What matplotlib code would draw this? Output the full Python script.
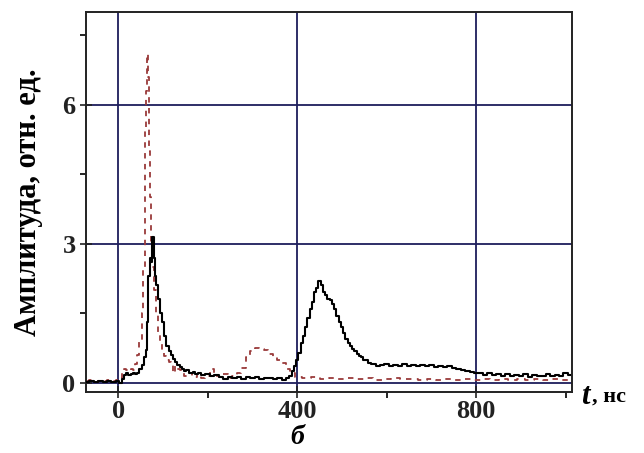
import matplotlib
matplotlib.use("Agg")
import matplotlib.pyplot as plt
from matplotlib.ticker import MultipleLocator

# Black solid trace (t, ns ; amplitude)
black_t = [-70, -60, -50, -40, -30, -20, -10, 0, 5, 10, 15, 20, 25, 30, 35, 40, 45, 50, 55,
           60, 63, 66, 69, 72, 75, 78, 81, 84, 87, 90, 95, 100, 105, 110, 115, 120, 125,
           130, 135, 140, 145, 150, 155, 160, 165, 170, 175, 180, 190, 200, 210, 220, 230,
           240, 250, 260, 270, 280, 290, 300, 310, 320, 330, 340, 350, 360, 370, 380, 385,
           390, 395, 400, 405, 410, 415, 420, 425, 430, 435, 440, 445, 450, 455, 460, 465,
           470, 475, 480, 485, 490, 495, 500, 505, 510, 515, 520, 525, 530, 535, 540, 545,
           550, 555, 560, 570, 580, 590, 600, 610, 620, 630, 640, 650, 660, 670, 680, 690,
           700, 710, 720, 730, 740, 750, 760, 770, 780, 790, 800, 810, 820, 830, 840, 850,
           860, 870, 880, 890, 900, 910, 920, 930, 940, 950, 960, 970, 980, 990, 1000, 1010]
black_y = [0.02, 0.03, 0.01, 0.03, 0.02, 0.03, 0.02, 0.03, 0.0, 0.08, 0.17, 0.2, 0.17, 0.19,
           0.2, 0.18, 0.22, 0.3, 0.38, 0.55, 0.7, 1.3, 2.3, 2.7, 2.6, 3.15, 2.7, 2.3, 2.1,
           1.8, 1.5, 1.3, 1.0, 0.8, 0.68, 0.6, 0.52, 0.45, 0.38, 0.33, 0.3, 0.25, 0.28, 0.22,
           0.2, 0.24, 0.18, 0.2, 0.17, 0.19, 0.15, 0.17, 0.12, 0.08, 0.13, 0.1, 0.12, 0.09,
           0.13, 0.1, 0.12, 0.08, 0.11, 0.1, 0.07, 0.1, 0.05, 0.1, 0.15, 0.25, 0.35, 0.5,
           0.65, 0.85, 1.0, 1.2, 1.4, 1.6, 1.75, 1.95, 2.05, 2.2, 2.1, 1.95, 1.9, 1.8, 1.78,
           1.7, 1.58, 1.45, 1.32, 1.2, 1.08, 0.95, 0.85, 0.8, 0.72, 0.68, 0.63, 0.58, 0.55,
           0.5, 0.48, 0.42, 0.4, 0.36, 0.38, 0.4, 0.35, 0.39, 0.37, 0.4, 0.36, 0.38, 0.35,
           0.39, 0.36, 0.38, 0.34, 0.37, 0.33, 0.36, 0.32, 0.3, 0.28, 0.25, 0.24, 0.22, 0.2,
           0.17, 0.2, 0.16, 0.18, 0.15, 0.19, 0.14, 0.17, 0.15, 0.18, 0.13, 0.17, 0.15, 0.14,
           0.18, 0.15, 0.17, 0.14, 0.2, 0.16]

# Red dashed trace
red_t = [-70, -60, -50, -40, -30, -20, -10, 0, 5, 10, 15, 20, 25, 30, 35, 40, 45, 50, 55,
         58, 60, 62, 64, 66, 68, 70, 72, 75, 78, 82, 86, 90, 95, 100, 105, 110, 115, 120,
         125, 130, 135, 140, 145, 150, 160, 170, 180, 190, 200, 210, 220, 230, 240, 250,
         260, 270, 280, 290, 300, 310, 320, 330, 340, 350, 360, 370, 380, 390, 400, 420,
         440, 460, 480, 500, 520, 540, 560, 580, 600, 620, 640, 660, 680, 700, 720, 740,
         760, 780, 800, 820, 840, 860, 880, 900, 920, 940, 960, 980, 1000, 1010]
red_y = [0.03, 0.05, 0.02, 0.04, 0.03, 0.05, 0.04, 0.05, 0.1, 0.2, 0.3, 0.28, 0.25, 0.3,
         0.28, 0.4, 0.6, 0.9, 1.5, 2.5, 4.0, 5.5, 6.3, 7.1, 6.6, 5.0, 4.0, 3.0, 2.5, 2.0,
         1.5, 1.1, 0.85, 0.7, 0.58, 0.5, 0.45, 0.4, 0.2, 0.35, 0.3, 0.28, 0.25, 0.15, 0.2,
         0.12, 0.18, 0.1, 0.15, 0.3, 0.15, 0.12, 0.18, 0.1, 0.15, 0.2, 0.32, 0.55, 0.68,
         0.75, 0.72, 0.7, 0.62, 0.55, 0.5, 0.42, 0.3, 0.22, 0.12, 0.1, 0.12, 0.08, 0.1,
         0.07, 0.11, 0.08, 0.1, 0.06, 0.09, 0.1, 0.07, 0.09, 0.06, 0.08, 0.05, 0.08, 0.06,
         0.09, 0.05, 0.08, 0.06, 0.09, 0.05, 0.07, 0.06, 0.08, 0.05, 0.07, 0.06, 0.05]

x_major = [0, 400, 800]
y_major = [0, 3, 6]

plt.rcParams["font.family"] = ["Liberation Serif", "DejaVu Serif"]
plt.rcParams["font.weight"] = "bold"

fig = plt.figure(figsize=(6.44, 4.53), dpi=100)
ax = fig.add_axes([0.1335, 0.1347, 0.7547, 0.839])

grid_col = "#1e1e5c"
for xv in x_major:
    ax.axvline(xv, color=grid_col, lw=1.3, zorder=1)
for yv in y_major:
    ax.axhline(yv, color=grid_col, lw=1.3, zorder=1)

ax.plot(red_t, red_y, color="#9a3a3a", lw=1.3, dashes=(3, 3),
        drawstyle="steps-mid", zorder=2)
ax.plot(black_t, black_y, color="black", lw=1.5, drawstyle="steps-mid", zorder=3)

ax.set_xlim(-72, 1014)
ax.set_ylim(-0.2, 8.0)
ax.set_xticks(x_major)
ax.set_yticks(y_major)
ax.xaxis.set_minor_locator(MultipleLocator(200))
ax.yaxis.set_minor_locator(MultipleLocator(1.5))
ax.tick_params(which="major", direction="inout", length=9, width=1.2, labelsize=19,
               colors="#222222")
ax.tick_params(which="minor", direction="out", length=4, width=1.2)
ax.tick_params(axis="x", pad=1)
ax.tick_params(axis="y", pad=3)
for lab in ax.get_xticklabels() + ax.get_yticklabels():
    lab.set_fontweight("bold")
for sp in ax.spines.values():
    sp.set_linewidth(1.4)
    sp.set_color("#222222")

ax.set_ylabel("Амплитуда, отн. ед.", fontsize=22, fontweight="bold", labelpad=14)
fig.text(0.903, 0.124, "t", fontsize=22, fontweight="bold", style="italic",
         ha="left", va="center")
fig.text(0.919, 0.124, ", нс", fontsize=16, fontweight="bold", ha="left", va="center")
fig.text(0.461, 0.035, "б", fontsize=20, fontweight="bold", style="italic",
         ha="center", va="center")

fig.savefig("out.png", dpi=100)
